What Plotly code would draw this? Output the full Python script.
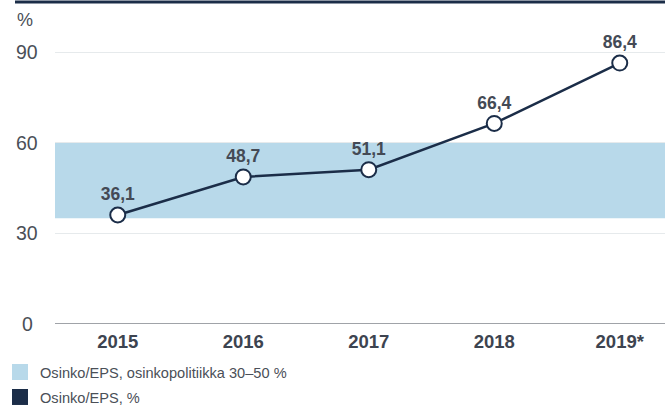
import plotly.graph_objects as go

years = ["2015", "2016", "2017", "2018", "2019*"]
payout = [36.1, 48.7, 51.1, 66.4, 86.4]
payout_labels = ["36,1", "48,7", "51,1", "66,4", "86,4"]
band_low, band_high = 35, 60
y_ticks = [0, 30, 60, 90]
legend_band = "Osinko/EPS, osinkopolitiikka 30–50 %"
legend_line = "Osinko/EPS, %"

NAVY = "#1b2d48"
BAND = "#b8d9ea"
TXT = "#3d4450"
FONT = "Liberation Sans, Arial, Helvetica, sans-serif"

W, H = 665, 411
ML, MR, MT, MB = 55, 0, 22, 87
pw = W - ML - MR
ph = H - MT - MB

fig = go.Figure()

fig.add_trace(go.Scatter(
    x=years, y=payout, mode="lines+markers+text",
    text=payout_labels, textposition="top center",
    textfont=dict(family=FONT, size=17.5, color="#444a55", weight="bold"),
    line=dict(color=NAVY, width=2.5),
    marker=dict(size=15, color="white", line=dict(color=NAVY, width=2)),
    showlegend=False, cliponaxis=False, hoverinfo="skip",
))

# legend entries
fig.add_trace(go.Scatter(x=[None], y=[None], mode="markers", name=legend_band,
                         marker=dict(symbol="square", size=18, color=BAND),
                         legendgroup="a"))
fig.add_trace(go.Scatter(x=[None], y=[None], mode="markers", name=legend_line,
                         marker=dict(symbol="square", size=18, color=NAVY),
                         legendgroup="b"))

shapes = [
    dict(type="rect", xref="paper", yref="y", x0=0, x1=1, y0=band_low, y1=band_high,
         fillcolor=BAND, line=dict(width=0), layer="below"),
    dict(type="line", xref="paper", yref="paper", x0=(15 - ML) / pw, x1=1,
         y0=1 + 20 / ph, y1=1 + 20 / ph, line=dict(color=NAVY, width=3)),
    dict(type="line", xref="paper", yref="y", x0=0, x1=1, y0=0, y1=0,
         line=dict(color="#80858b", width=1.5)),
]

annotations = [
    dict(text="%", xref="paper", yref="paper", x=(15 - ML) / pw, y=1 + 2 / ph,
         xanchor="left", yanchor="middle", showarrow=False,
         font=dict(family=FONT, size=18, color="#4a4f57")),
]
for t in y_ticks:
    annotations.append(dict(text=str(t), xref="paper", yref="y", x=(27 - ML) / pw, y=t,
                            xanchor="center", yanchor="middle", showarrow=False,
                            font=dict(family=FONT, size=19.5, color="#4a4f57")))

fig.update_layout(
    width=W, height=H,
    margin=dict(l=ML, r=MR, t=MT, b=MB, autoexpand=False),
    paper_bgcolor="white", plot_bgcolor="white",
    font=dict(family=FONT, color=TXT),
    shapes=shapes, annotations=annotations,
    hovermode=False,
    xaxis=dict(type="category", range=[-0.5, -0.5 + pw / 125.5], showgrid=False,
               zeroline=False, showline=False, ticks="", ticklabelstandoff=4,
               tickfont=dict(family=FONT, size=18.5, color=TXT, weight="bold")),
    yaxis=dict(range=[0, 100], tickvals=[30, 60, 90], showticklabels=False,
               gridcolor="#e6eaec", gridwidth=1, zeroline=False, showline=False),
    legend=dict(x=(0 - ML) / pw, y=(324 - 356) / ph, xanchor="left", yanchor="top",
                font=dict(family=FONT, size=14.6, color="#4a4f57"),
                tracegroupgap=3, itemwidth=30, bgcolor="rgba(0,0,0,0)"),
)

fig.write_html("out.html", config={"displayModeBar": False},
               post_script="document.body.style.margin='0';document.body.style.overflow='hidden';")
